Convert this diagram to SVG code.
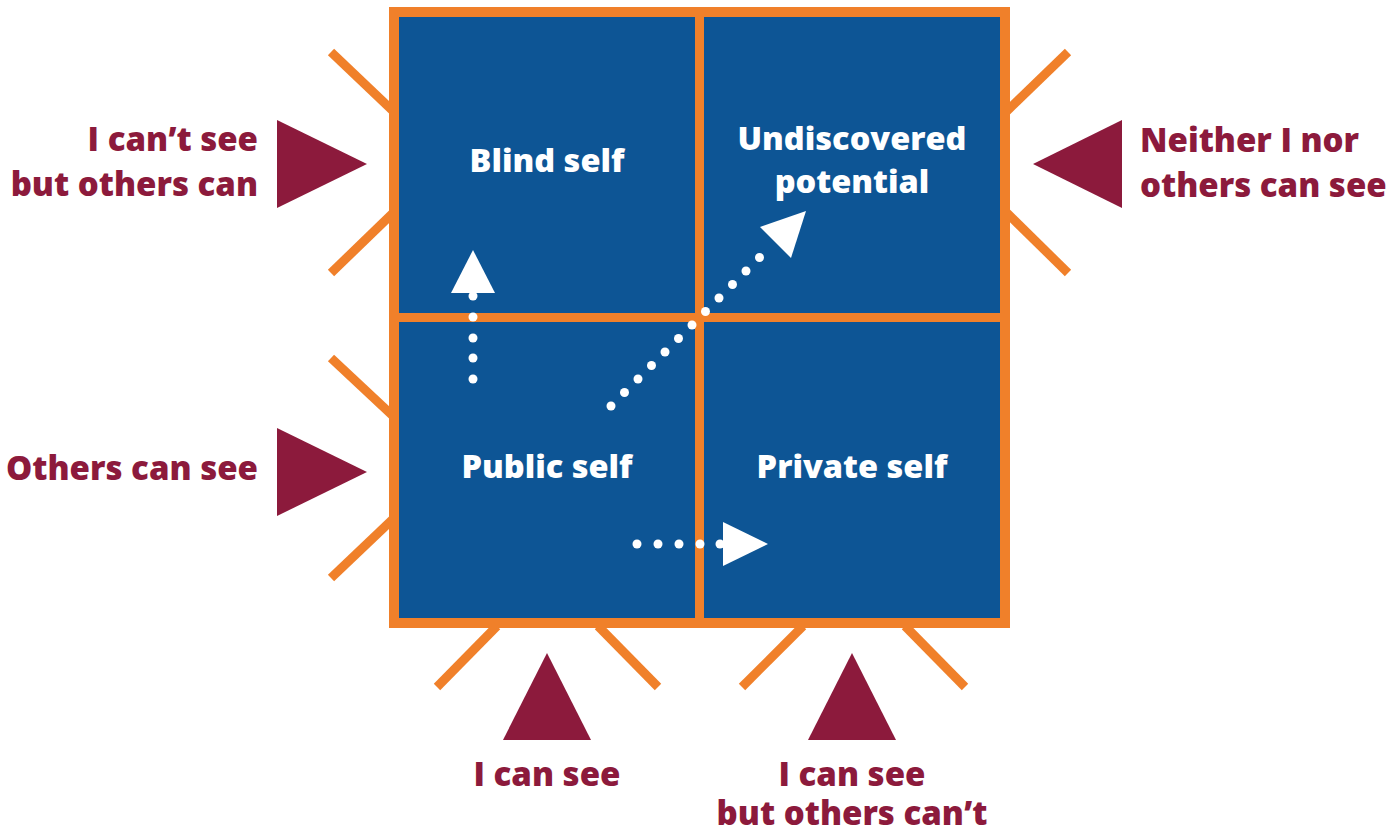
<svg xmlns="http://www.w3.org/2000/svg" width="1395" height="834" viewBox="0 0 1395 834">
  <style>
    .cell { fill: #0d5595; }
    .frame { fill: #f0802a; }
    .ray { stroke: #f0802a; stroke-width: 9; fill: none; }
    .pointer { fill: #8c1a3c; }
    .lbl { font-family: "Open Sans", "Liberation Sans", sans-serif; font-weight: 800; font-size: 33px; fill: #8c1a3c; }
    .cell-text { font-family: "Open Sans", "Liberation Sans", sans-serif; font-weight: 800; font-size: 32.5px; fill: #ffffff; text-anchor: middle; }
    .dot { fill: #ffffff; }
    .head { fill: #ffffff; }
  </style>

  <rect width="1395" height="834" fill="#ffffff"/>

  <!-- orange frame behind the four quadrants -->
  <rect class="frame" x="389" y="7" width="621" height="621"/>

  <!-- rays around the frame -->
  <g id="rays">
    <line class="ray" x1="331" y1="52" x2="393" y2="111"/>
    <line class="ray" x1="393" y1="213" x2="331" y2="273"/>
    <line class="ray" x1="331" y1="358" x2="393" y2="416"/>
    <line class="ray" x1="393" y1="519" x2="331" y2="578"/>
    <line class="ray" x1="1007" y1="111" x2="1068" y2="52"/>
    <line class="ray" x1="1007" y1="213" x2="1068" y2="273"/>
    <line class="ray" x1="497" y1="626" x2="437" y2="687"/>
    <line class="ray" x1="598" y1="626" x2="658" y2="687"/>
    <line class="ray" x1="803" y1="626" x2="742" y2="687"/>
    <line class="ray" x1="905" y1="626" x2="965" y2="687"/>
  </g>

  <!-- quadrants -->
  <g id="blind-self">
    <rect class="cell" x="399" y="17" width="296" height="296"/>
    <text class="cell-text" x="547" y="172">Blind self</text>
  </g>
  <g id="undiscovered-potential">
    <rect class="cell" x="704" y="17" width="296" height="296"/>
    <text class="cell-text" x="852" y="150">Undiscovered</text>
    <text class="cell-text" x="852" y="193">potential</text>
  </g>
  <g id="public-self">
    <rect class="cell" x="399" y="322" width="296" height="296"/>
    <text class="cell-text" x="547" y="478">Public self</text>
  </g>
  <g id="private-self">
    <rect class="cell" x="704" y="322" width="296" height="296"/>
    <text class="cell-text" x="852" y="478">Private self</text>
  </g>

  <!-- outside labels with pointers -->
  <g id="label-blind">
    <polygon class="pointer" points="277,120 367,164 277,208"/>
    <text class="lbl" x="258" y="151" text-anchor="end">I can’t see</text>
    <text class="lbl" x="258" y="196" text-anchor="end">but others can</text>
  </g>
  <g id="label-public">
    <polygon class="pointer" points="277,428 367,472 277,516"/>
    <text class="lbl" x="258" y="480" text-anchor="end">Others can see</text>
  </g>
  <g id="label-undiscovered">
    <polygon class="pointer" points="1122,120 1033,164 1122,208"/>
    <text class="lbl" x="1140" y="152">Neither I nor</text>
    <text class="lbl" x="1140" y="197">others can see</text>
  </g>
  <g id="label-i-can-see">
    <polygon class="pointer" points="503,740 547,653 591,740"/>
    <text class="lbl" x="547" y="786" text-anchor="middle">I can see</text>
  </g>
  <g id="label-private">
    <polygon class="pointer" points="808,740 852,653 896,740"/>
    <text class="lbl" x="852" y="786" text-anchor="middle">I can see</text>
    <text class="lbl" x="852" y="825" text-anchor="middle">but others can’t</text>
  </g>

  <!-- dotted movement arrows between quadrants -->
  <g id="connectors">
    <g id="to-blind">
      <circle class="dot" cx="473" cy="379" r="4.5"/>
      <circle class="dot" cx="473" cy="358" r="4.5"/>
      <circle class="dot" cx="473" cy="338" r="4.5"/>
      <circle class="dot" cx="473" cy="317" r="4.5"/>
      <circle class="dot" cx="473" cy="296" r="4.5"/>
      <polygon class="head" points="451,293 473,250 495,293"/>
    </g>
    <g id="to-undiscovered">
      <circle class="dot" cx="611" cy="406" r="4.5"/>
      <circle class="dot" cx="624.5" cy="392.5" r="4.5"/>
      <circle class="dot" cx="638" cy="379" r="4.5"/>
      <circle class="dot" cx="651.5" cy="365.5" r="4.5"/>
      <circle class="dot" cx="665" cy="352" r="4.5"/>
      <circle class="dot" cx="678.5" cy="338.5" r="4.5"/>
      <circle class="dot" cx="692" cy="325" r="4.5"/>
      <circle class="dot" cx="705.5" cy="311.5" r="4.5"/>
      <circle class="dot" cx="719" cy="298" r="4.5"/>
      <circle class="dot" cx="732.5" cy="284.5" r="4.5"/>
      <circle class="dot" cx="746" cy="271" r="4.5"/>
      <circle class="dot" cx="759.5" cy="257.5" r="4.5"/>
      <polygon class="head" points="760,227 806,211 791,258"/>
    </g>
    <g id="to-private">
      <circle class="dot" cx="637" cy="544" r="4.5"/>
      <circle class="dot" cx="658" cy="544" r="4.5"/>
      <circle class="dot" cx="679" cy="544" r="4.5"/>
      <circle class="dot" cx="700" cy="544" r="4.5"/>
      <circle class="dot" cx="720" cy="544" r="4.5"/>
      <polygon class="head" points="723,522 768,544 723,566"/>
    </g>
  </g>
</svg>
